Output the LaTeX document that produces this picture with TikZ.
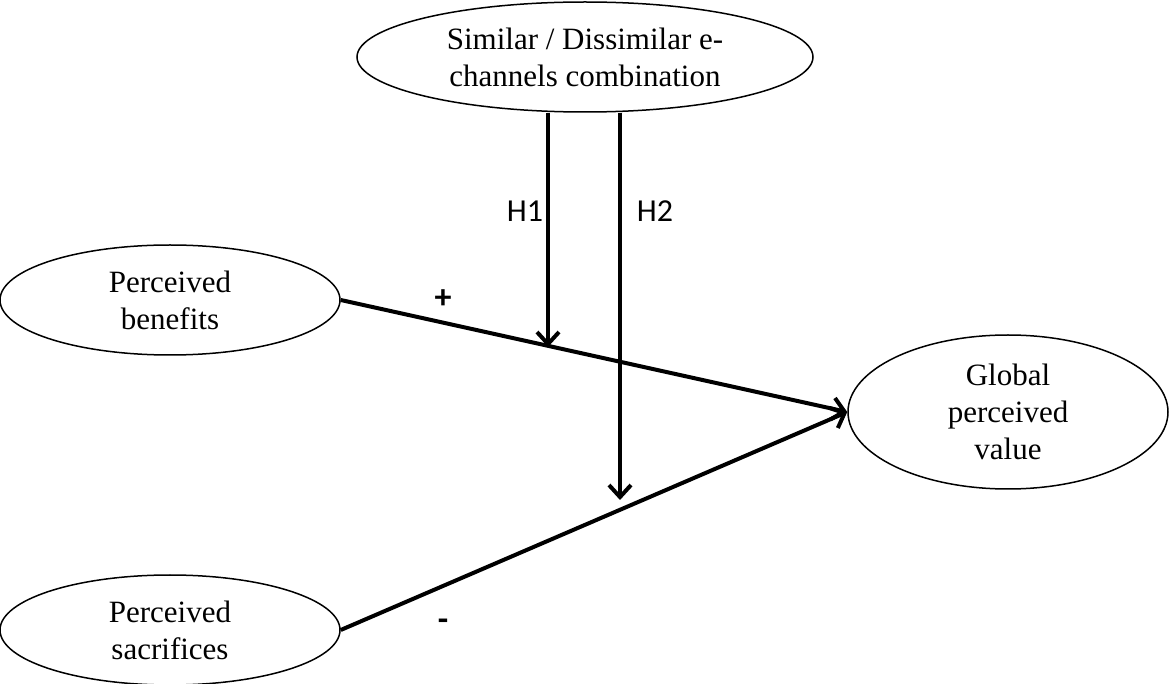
\documentclass[tikz,border=0pt]{standalone}
\usepackage{fontspec}
\setmainfont{Liberation Serif}
\newfontfamily\labelfont{Carlito}
\usetikzlibrary{shapes.geometric,arrows.meta}
\tikzset{
  construct/.style={draw,ellipse,line width=0.75pt,inner sep=0pt,align=center,
    font=\fontsize{15.5}{18.5}\selectfont},
  path link/.style={line width=2pt,-{Straight Barb[length=6pt,width=11pt,line width=2pt]}},
  hyp/.style={font=\labelfont\fontsize{16}{18}\selectfont},
  sign/.style={font=\labelfont\bfseries\fontsize{17}{18}\selectfont}
}
\begin{document}
\begin{tikzpicture}[x=0.5pt,y=-0.5pt]
    \useasboundingbox (0,0) rectangle (1169,684);

    % Moderator
    \node[construct,minimum width=228pt,minimum height=55pt] (combo) at (585,57) {Similar / Dissimilar e-\\channels combination};

    % Antecedents
    \node[construct,minimum width=170pt,minimum height=55pt] (benefits) at (170,300) {Perceived\\benefits};
    \node[construct,minimum width=170pt,minimum height=55pt] (sacrifices) at (170,630) {Perceived\\sacrifices};

    % Outcome
    \node[construct,minimum width=160pt,minimum height=77pt] (value) at (1008,412) {Global\\perceived\\value};

    % Main effects
    \draw[path link] (benefits.east) -- (value.west);
    \draw[path link] (sacrifices.east) -- (value.west);
    \node[sign] (plus) at (443,299) {+};
    \node[sign] (minus) at (443,625) {-};

    % Moderating effects
    \coordinate (h1end) at (548,347);
    \coordinate (h2end) at (620,500);
    \draw[path link] (combo.south -| h1end) -- (h1end);
    \draw[path link] (combo.south -| h2end) -- (h2end);
    \node[hyp] (h1) at (525,211) {H1};
    \node[hyp] (h2) at (655,211) {H2};
  \end{tikzpicture}
\end{document}
